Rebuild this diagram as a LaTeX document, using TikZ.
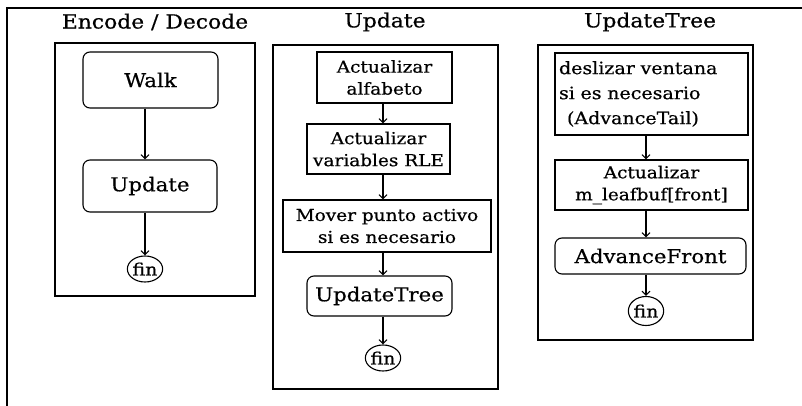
\documentclass[tikz,border=0pt]{standalone}
\usepackage{fontspec}
\setmainfont{DejaVu Serif}[FakeStretch=1.12,FakeBold=0.6]
\usetikzlibrary{arrows.meta,shapes.geometric}
\begin{document}
\begin{tikzpicture}[x=1pt,y=-1pt,
  lw/.style={line width=1.1pt},
  panel/.style={draw,lw,inner sep=0pt},
  ttl/.style={font=\fontsize{19.5}{21}\selectfont,inner sep=0pt},
  rbox/.style={draw,lw,rounded corners=7pt,inner sep=0pt,font=\fontsize{19}{21}\selectfont},
  sbox/.style={draw,lw,inner sep=0pt,align=center,font=\fontsize{16.5}{22}\selectfont},
  finnode/.style={draw,lw,ellipse,inner sep=0pt,minimum width=33pt,minimum height=26pt,font=\fontsize{17}{19}\selectfont},
  flow/.style={lw,-{Straight Barb[length=4pt,width=8pt]}},
]
\useasboundingbox (0,0) rectangle (802,406);
\draw[line width=1.6pt] (7,406) -- (7,8) -- (802,8);

% Panel 1
\node[ttl] (t1) at (155,22) {Encode / Decode};
\node[panel,minimum width=200pt,minimum height=253pt] (p1) at (155,169.5) {};
\node[rbox,minimum width=135pt,minimum height=56pt] (walk) at (150.5,80) {Walk};
\node[rbox,minimum width=134pt,minimum height=52pt] (upd) at (150,186) {Update};
\node[finnode] (fin1) at (145,269) {fin};
\draw[flow] (walk.south -| fin1) -- (upd.north -| fin1);
\draw[flow] (upd.south -| fin1) -- (fin1);

% Panel 2
\node[ttl] (t2) at (385,22) {Update};
\node[panel,minimum width=225pt,minimum height=344pt] (p2) at (385.5,217) {};
\node[sbox,minimum width=135pt,minimum height=51pt] (a1) at (384.5,77.5) {Actualizar\\alfabeto};
\node[sbox,minimum width=143pt,minimum height=50pt] (a2) at (378.5,149) {Actualizar\\variables RLE};
\node[sbox,minimum width=208pt,minimum height=52pt] (a3) at (387,226) {Mover punto activo\\si es necesario};
\node[rbox,minimum width=145pt,minimum height=40pt] (ut) at (379.5,296) {UpdateTree};
\node[finnode] (fin2) at (383,358) {fin};
\draw[flow] (a1.south -| fin2) -- (a2.north -| fin2);
\draw[flow] (a2.south -| fin2) -- (a3.north -| fin2);
\draw[flow] (a3.south -| fin2) -- (ut.north -| fin2);
\draw[flow] (ut.south -| fin2) -- (fin2);

% Panel 3
\node[ttl] (t3) at (650,22) {UpdateTree};
\node[panel,minimum width=215pt,minimum height=295pt] (p3) at (645.5,192.5) {};
\node[sbox,minimum width=193pt,minimum height=82pt,inner xsep=4pt,text width=185pt,align=left,font=\fontsize{17}{25}\selectfont] (d1) at (651.5,94) {deslizar ventana\\si es necesario\\\hspace*{8pt}(AdvanceTail)};
\node[sbox,minimum width=193pt,minimum height=50pt] (d2) at (651.5,185) {Actualizar\\m\_leafbuf[front]};
\node[rbox,minimum width=191pt,minimum height=36pt] (af) at (650.5,256) {AdvanceFront};
\node[finnode,minimum width=35pt,minimum height=29pt] (fin3) at (646,311) {fin};
\draw[flow] (d1.south -| fin3) -- (d2.north -| fin3);
\draw[flow] (d2.south -| fin3) -- (af.north -| fin3);
\draw[flow] (af.south -| fin3) -- (fin3);
\end{tikzpicture}
\end{document}
